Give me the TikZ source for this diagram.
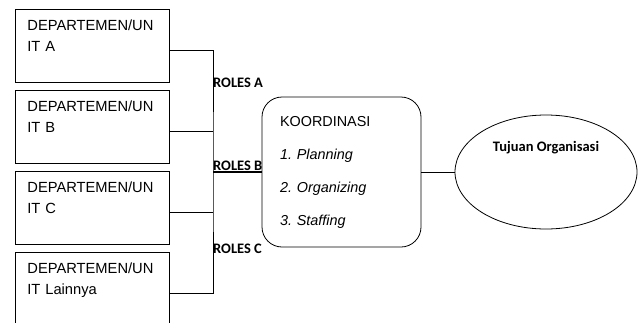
\documentclass[tikz,border=0pt]{standalone}
\usepackage{fontspec}
\setmainfont{Liberation Sans}
\newfontfamily\calibri{Carlito}
\usetikzlibrary{positioning, shapes, calc}
\frenchspacing

\tikzset{
    dept/.style={draw, line width=0.8pt, anchor=north west, minimum width=150pt, minimum height=73pt,
        text width=130pt, inner xsep=12pt, align=left, font=\fontsize{14.7}{21}\selectfont},
    roles/.style={font=\calibri\bfseries\fontsize{14.5}{16}\selectfont, inner sep=0pt, anchor=west},
}

\begin{document}
\begin{tikzpicture}[x=1pt, y=-1pt]
                \useasboundingbox (0,0) rectangle (638,322);
                \clip (0,0) rectangle (638,322);

                % departemen
                \node[dept] (deptA) at (15,9) {DEPARTEMEN/UN\\IT A\\~};
                \node[dept] (deptB) at (15,90) {DEPARTEMEN/UN\\IT B\\~};
                \node[dept] (deptC) at (15,171) {DEPARTEMEN/UN\\IT C\\~};
                \node[dept] (deptD) at (15,252) {DEPARTEMEN/UN\\IT Lainnya\\~};

                \coordinate (bus) at (213,172);

                \node[draw, line width=0.8pt, rounded corners=20pt, minimum width=159pt, minimum height=150pt,
                      text width=123pt, inner xsep=18pt, align=left, font=\fontsize{14.4}{33}\selectfont] (koor) at (341.5,172)
                      {KOORDINASI\\\textit{1. Planning}\\\textit{2. Organizing}\\\textit{3. Staffing}};

                \node[draw, line width=0.8pt, ellipse, minimum width=182pt, minimum height=114pt] (tujuan) at (546,172) {};
                \node[font=\calibri\bfseries\fontsize{14.5}{16}\selectfont, inner sep=0pt] (tujuanText) at ([yshift=24pt]tujuan.center) {Tujuan Organisasi};

                % connectors
                \draw[line width=0.8pt] ([yshift=-4pt]deptA.east) -| (bus) |- ([yshift=-4pt]deptD.east);
                \draw[line width=0.8pt] ([yshift=-4pt]deptB.east) -- ([yshift=-4pt]deptB.east -| bus);
                \draw[line width=0.8pt] ([yshift=-4pt]deptC.east) -- ([yshift=-4pt]deptC.east -| bus);
                \draw[line width=1.8pt] (bus) -- (bus -| koor.west);
                \draw[line width=0.8pt] (koor.east) -- (tujuan.west);

                \node[roles] (rolesA) at (213,83) {ROLES A};
                \node[roles, anchor=south west, yshift=1pt] (rolesB) at (bus) {ROLES B};
                \node[roles] (rolesC) at (213,249) {ROLES C};
            \end{tikzpicture}
\end{document}
